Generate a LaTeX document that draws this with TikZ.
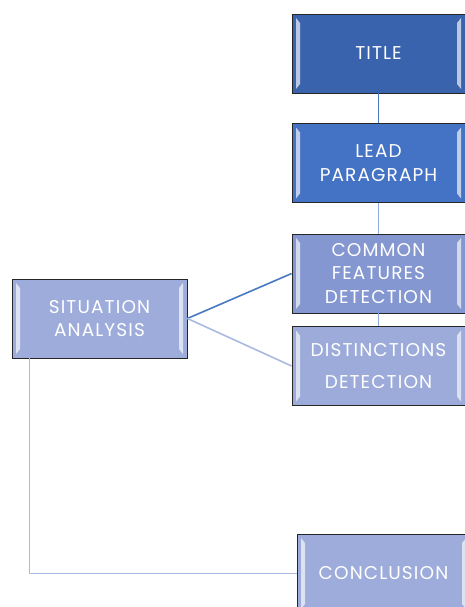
\documentclass[tikz,border=0pt]{standalone}
\usepackage{fontspec}
\setmainfont[LetterSpace=6]{Poppins}
\usetikzlibrary{positioning}
\definecolor{BoxDark}{HTML}{3A63AD}
\definecolor{BoxMid}{HTML}{4472C4}
\definecolor{BoxSoft}{HTML}{8497D0}
\definecolor{BoxPale}{HTML}{9DACDA}
\definecolor{LinkDark}{HTML}{4A78C2}
\definecolor{LinkSoft}{HTML}{8FAADC}
\definecolor{LinkPale}{HTML}{AAB9E0}
\tikzset{stepbox/.style={draw=black!85,line width=.8pt,minimum width=173pt,
 minimum height=79pt,align=center,text=white,
 font=\fontsize{18.5}{23.5}\selectfont,
 path picture={
 \fill[white,opacity=.65] ([xshift=4pt,yshift=-4pt]path picture bounding box.north west)
  -- ([xshift=8pt,yshift=-9pt]path picture bounding box.north west)
  -- ([xshift=8pt,yshift=9pt]path picture bounding box.south west)
  -- ([xshift=4pt,yshift=4pt]path picture bounding box.south west) -- cycle;
 \fill[white,opacity=.65] ([xshift=-4pt,yshift=-4pt]path picture bounding box.north east)
  -- ([xshift=-8pt,yshift=-9pt]path picture bounding box.north east)
  -- ([xshift=-8pt,yshift=9pt]path picture bounding box.south east)
  -- ([xshift=-4pt,yshift=4pt]path picture bounding box.south east) -- cycle;}},
 link/.style={line width=1.6pt}}
\begin{document}
\begin{tikzpicture}[x=1pt,y=-1pt]
\clip (0,0) rectangle (465,607);
\useasboundingbox (0,0) rectangle (465,607);
\node[stepbox,fill=BoxDark] (title) at (378.5,53.5) {TITLE};
\node[stepbox,fill=BoxMid] (lead) at (378.5,163) {LEAD\\PARAGRAPH};
\node[stepbox,fill=BoxSoft] (common) at (378.5,273.5) {COMMON\\FEATURES\\DETECTION};
\node[stepbox,fill=BoxPale!95!BoxSoft] (dist) at (378.5,366) {DISTINCTIONS\\[9pt]DETECTION};
\node[stepbox,fill=BoxPale,minimum width=175pt] (sit) at (99.5,318.5) {SITUATION\\ANALYSIS};
\node[stepbox,fill=BoxPale] (concl) at (383.5,573.5) {CONCLUSION};
\draw[link,LinkDark] (title)--(lead);
\draw[link,LinkSoft] (lead)--(common);
\draw[link,LinkSoft] (common)--(dist);
\draw[link,LinkDark] (sit.east)--(common.west);
\draw[link,LinkPale] (sit.east)--(dist.west);
\draw[link,LinkPale] ([xshift=18pt]sit.south west)|-(concl.west);
\end{tikzpicture}
\end{document}
